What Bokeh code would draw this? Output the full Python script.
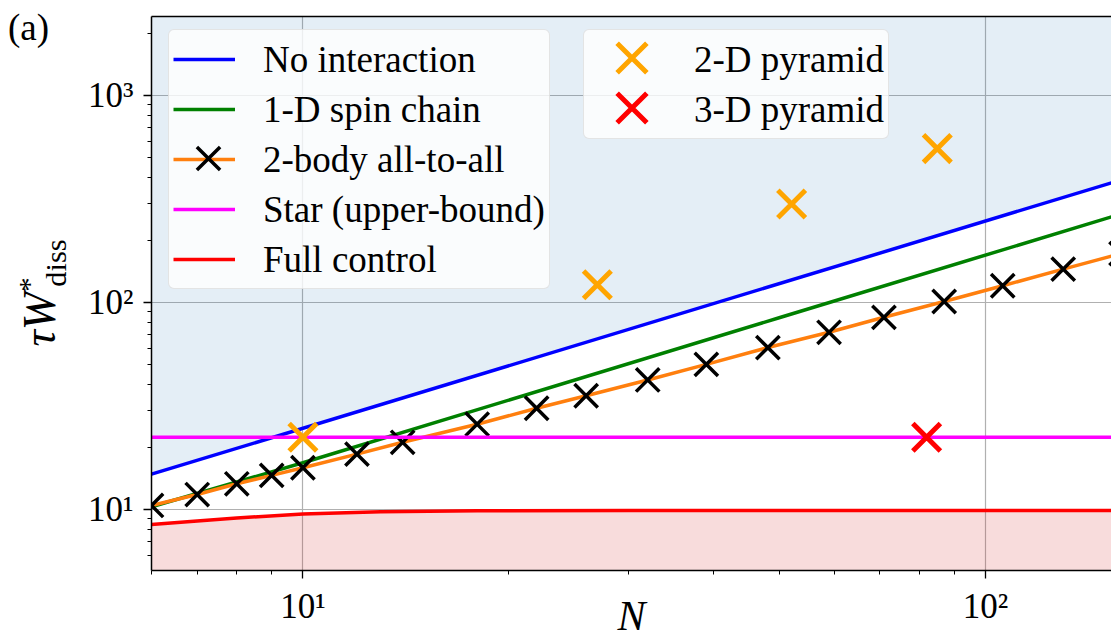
from bokeh.plotting import figure
from bokeh.models import (Legend, LegendItem, FixedTicker, LogAxis, Range1d, Div)
from bokeh.layouts import row
from bokeh.embed import file_html
from bokeh.resources import INLINE

# ---------------- data ----------------
N_noint = [6.0, 153.0]
W_noint = [14.8, 378.0]

N_chain = [6.0, 10.0, 50.0, 153.0]
W_chain = [10.3, 16.8, 84.5, 259.0]

N_2body = [6, 7, 8, 9, 10, 12, 14, 18, 22, 26, 32, 39, 48, 59, 71, 87, 106, 130, 158]
W_2body = [10.45, 11.8, 13.3, 14.6, 15.9, 18.5, 21.1, 25.8, 30.8, 35.4, 42.2, 50.2,
           60.5, 71.7, 84.7, 101.0, 120.3, 144.8, 172.0]

N_star = [6.0, 153.0]
W_star = [22.3, 22.3]

N_full = [6, 7, 8, 10, 13, 18, 30, 60, 153]
W_full = [8.45, 8.8, 9.1, 9.5, 9.75, 9.85, 9.88, 9.88, 9.88]

N_2d = [10, 27, 52, 85]
W_2d = [22.3, 121.7, 298.5, 553.0]

N_3d = [82]
W_3d = [22.3]

X_RANGE = (6.0, 153.0)
Y_RANGE = (5.07, 2403.0)

x_major = [10, 100]
x_minor = [6, 7, 8, 9, 20, 30, 40, 50, 60, 70, 80, 90]
y_major = [10, 100, 1000]
y_minor = [6, 7, 8, 9, 20, 30, 40, 50, 60, 70, 80, 90,
           200, 300, 400, 500, 600, 700, 800, 900, 2000]
x_labels = {10: "10\u00b9", 100: "10\u00b2"}
y_labels = {10: "10\u00b9", 100: "10\u00b2", 1000: "10\u00b3"}

FONT = "Liberation Serif"

# ---------------- figure ----------------
p = figure(width=1041, height=641, x_axis_type="log", y_axis_type="log",
           x_range=Range1d(*X_RANGE), y_range=Range1d(*Y_RANGE),
           output_backend="svg", toolbar_location=None,
           min_border_left=81, min_border_right=0, min_border_top=16,
           min_border_bottom=69)
p.outline_line_color = None
p.background_fill_color = "white"
p.border_fill_color = "white"

for ax, maj, mnr, labs in ((p.xaxis[0], x_major, x_minor, x_labels),
                           (p.yaxis[0], y_major, y_minor, y_labels)):
    ax.ticker = FixedTicker(ticks=maj, minor_ticks=mnr)
    ax.major_label_overrides = labs
    ax.major_label_text_font = FONT
    ax.major_label_text_font_size = "35px"
    ax.major_label_text_color = "black"
    ax.axis_line_color = "black"
    ax.axis_line_width = 1.5
    ax.major_tick_line_color = "black"
    ax.minor_tick_line_color = "black"
    ax.major_tick_line_width = 1.3
    ax.minor_tick_line_width = 1.0
    ax.major_tick_out = 8
    ax.major_tick_in = 0
    ax.minor_tick_out = 4
    ax.minor_tick_in = 0
p.xaxis.major_label_standoff = 8
p.yaxis.major_label_standoff = 10

p.xaxis.axis_label = "N"
p.xaxis.axis_label_text_font = FONT
p.xaxis.axis_label_text_font_style = "italic"
p.xaxis.axis_label_text_font_size = "42px"
p.xaxis.axis_label_text_color = "black"
p.xaxis.axis_label_standoff = -36

top_axis = LogAxis(ticker=FixedTicker(ticks=[]), axis_line_color="black",
                   axis_line_width=1.5, major_tick_line_color=None,
                   minor_tick_line_color=None, major_label_text_font_size="0px",
                   major_label_standoff=0, major_tick_out=0, minor_tick_out=0)
p.add_layout(top_axis, "above")

p.grid.grid_line_color = "#b0b0b0"
p.grid.grid_line_width = 1.2

# ---------------- fills ----------------
p.varea(x=N_noint, y1=W_noint, y2=Y_RANGE[1], fill_color="#1f77b4", fill_alpha=0.12)
p.varea(x=N_full, y1=Y_RANGE[0], y2=W_full, fill_color="#d62728", fill_alpha=0.16)

# ---------------- series ----------------
r_noint = p.line(N_noint, W_noint, line_color="#0000ff", line_width=3.5)
r_chain = p.line(N_chain, W_chain, line_color="#008000", line_width=3.5)
r_2line = p.line(N_2body, W_2body, line_color="#ff7f0e", line_width=3.5)
r_2mark = p.scatter(N_2body, W_2body, marker="x", size=33, line_color="black",
                    line_width=3.5)
r_star = p.line(N_star, W_star, line_color="#ff00ff", line_width=3.5)
r_full = p.line(N_full, W_full, line_color="#ff0000", line_width=3.5)
r_2d = p.scatter(N_2d, W_2d, marker="x", size=39, line_color="#ffa500", line_width=5)
r_3d = p.scatter(N_3d, W_3d, marker="x", size=39, line_color="#ff0000", line_width=5)

# legend-only proxies (invisible) so that the boxed legend carries only the texts
proxy_2d = p.scatter([], [], marker="x", line_alpha=0)
proxy_3d = p.scatter([], [], marker="x", line_alpha=0)

# ---------------- legends ----------------
HAS_RADIUS = "border_radius" in Legend.properties()

def make_legend(items, loc, gw, standoff):
    leg = Legend(items=items, location=loc, orientation="vertical",
                 glyph_width=gw, glyph_height=50, label_height=50, spacing=0,
                 padding=4, margin=0, label_standoff=standoff,
                 label_text_font=FONT, label_text_font_size="37px",
                 label_text_color="black",
                 background_fill_color="white", background_fill_alpha=0.8,
                 border_line_color="#cccccc", border_line_width=1.5)
    if HAS_RADIUS:
        leg.border_radius = 6
    return leg

def marker_legend(renderer, loc, box):
    # transparent single-glyph legend: draws a larger legend marker
    return Legend(items=[LegendItem(label=" ", renderers=[renderer])], location=loc,
                  glyph_width=box, glyph_height=box, label_height=10, spacing=0,
                  padding=0, margin=0, label_standoff=0,
                  label_text_font_size="2px", label_text_alpha=0,
                  background_fill_alpha=0, border_line_color=None)

leg1 = make_legend([
    LegendItem(label="No interaction", renderers=[r_noint]),
    LegendItem(label="1-D spin chain", renderers=[r_chain]),
    LegendItem(label="2-body all-to-all", renderers=[r_2line]),
    LegendItem(label="Star (upper-bound)", renderers=[r_star]),
    LegendItem(label="Full control", renderers=[r_full]),
], (17, 281), 62, 28)
leg2 = make_legend([
    LegendItem(label="2-D pyramid", renderers=[proxy_2d]),
    LegendItem(label="3-D pyramid", renderers=[proxy_3d]),
], (432, 431), 88, 18)
p.add_layout(leg1, "center")
p.add_layout(leg2, "center")
p.add_layout(marker_legend(r_2mark, (16, 371), 82), "center")
p.add_layout(marker_legend(r_2d, (428, 460), 105), "center")
p.add_layout(marker_legend(r_3d, (428, 410), 105), "center")

# ---------------- side texts: panel tag and y label ----------------
side_html = (
    '<div style="position:relative;width:70px;height:641px;'
    "font-family:'Liberation Serif';color:black;\">"
    '<div style="position:absolute;left:8px;top:9px;font-size:37px;line-height:1;">(a)</div>'
    '<div style="position:absolute;left:43px;top:293px;white-space:nowrap;'
    'font-size:46px;line-height:1;transform:translate(-50%,-50%) rotate(-90deg);">'
    '<i>\u03c4W</i><sup style="font-size:0.62em;">*</sup>'
    '<sub style="font-size:0.66em;margin-left:-0.3em;">diss</sub></div>'
    '</div>'
)
side = Div(text=side_html, width=70, height=641, margin=0)

layout = row(side, p, spacing=0)
open("out.html", "w").write(file_html(layout, INLINE))
